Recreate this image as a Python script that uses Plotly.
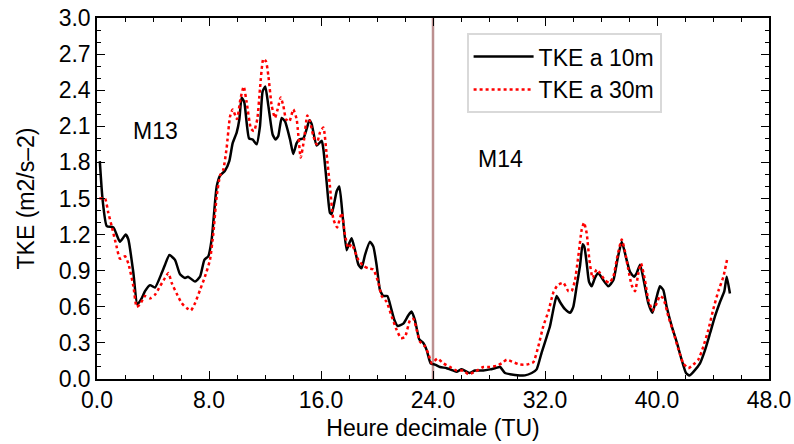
import plotly.graph_objects as go

# ---- data ----
t10 = [0.2, 0.4, 0.7, 1.17, 1.64, 2.05, 2.24, 2.6, 2.88, 3.19, 3.43, 3.79, 4.14, 4.62, 4.86,
       5.17, 5.57, 5.93, 6.29, 6.5, 7.0, 7.36, 7.67, 7.95, 8.19, 8.55, 8.79, 9.14, 9.45, 9.69,
       9.98, 10.17, 10.33, 10.52, 10.86, 11.12, 11.4, 11.64, 11.83, 12.02, 12.24, 12.55, 12.76,
       12.95, 13.19, 13.43, 13.79, 14.02, 14.26, 14.45, 14.74, 14.98, 15.17, 15.33, 15.69,
       16.05, 16.17, 16.4, 16.64, 16.76, 17.12, 17.31, 17.55, 17.83, 18.02, 18.19, 18.43,
       18.67, 18.9, 19.14, 19.5, 19.74, 19.98, 20.21, 20.45, 20.74, 20.98, 21.24, 21.48,
       21.88, 22.24, 22.48, 22.71, 23.02, 23.31, 23.55, 23.83, 24.14, 24.5, 24.98, 25.45,
       25.69, 26.05, 26.6, 27.0, 27.6, 28.07, 28.43, 28.79, 29.14, 29.5, 30.21, 30.57, 31.05,
       31.4, 31.76, 32.12, 32.36, 32.6, 32.83, 33.07, 33.43, 33.79, 34.02, 34.26, 34.5, 34.69,
       34.81, 34.98, 35.14, 35.33, 35.57, 35.81, 36.17, 36.52, 36.88, 37.17, 37.48, 37.83,
       38.07, 38.36, 38.55, 38.79, 39.02, 39.38, 39.67, 39.93, 40.21, 40.45, 40.69, 41.05,
       41.4, 41.76, 42.07, 42.31, 42.6, 43.07, 43.43, 43.79, 44.14, 44.5, 44.81, 44.98, 45.21]
tke10 = [1.81, 1.49, 1.27, 1.26, 1.14, 1.2, 1.16, 0.88, 0.62, 0.67, 0.73, 0.78, 0.76, 0.88, 0.95,
         1.03, 0.99, 0.87, 0.84, 0.85, 0.81, 0.85, 0.99, 1.02, 1.16, 1.6, 1.69, 1.73, 1.81, 1.96,
         2.05, 2.16, 2.34, 2.3, 2.0, 1.99, 1.95, 2.1, 2.39, 2.43, 2.27, 2.03, 1.99,
         2.02, 2.17, 2.14, 1.99, 1.87, 1.96, 1.99, 2.0, 2.08, 2.15, 2.12, 1.94,
         1.98, 1.91, 1.64, 1.38, 1.37, 1.56, 1.6, 1.35, 1.07, 1.13, 1.17, 1.07,
         0.95, 0.92, 1.03, 1.14, 1.1, 0.94, 0.74, 0.69, 0.69, 0.6, 0.49, 0.44,
         0.46, 0.53, 0.56, 0.49, 0.33, 0.3, 0.24, 0.13, 0.12, 0.1, 0.09, 0.07,
         0.06, 0.08, 0.05, 0.07, 0.07, 0.08, 0.09, 0.1, 0.05, 0.04, 0.03, 0.03, 0.05,
         0.08, 0.22, 0.35, 0.44, 0.58, 0.69, 0.64, 0.58, 0.55, 0.6, 0.77, 0.94, 1.12,
         1.1, 0.96, 0.81, 0.77, 0.84, 0.88, 0.82, 0.77, 0.82, 0.99, 1.14, 0.99,
         0.89, 0.85, 0.88, 0.95, 0.84, 0.63, 0.55, 0.66, 0.77, 0.74, 0.6, 0.44,
         0.31, 0.16, 0.05, 0.03, 0.06, 0.13, 0.24, 0.38, 0.52, 0.64, 0.73, 0.85, 0.71]

t30 = [0.17, 0.57, 0.81, 1.05, 1.4, 1.64, 2.0, 2.24, 2.6, 2.83, 3.07, 3.43, 3.79, 4.14, 4.5,
       4.86, 5.1, 5.33, 5.69, 6.05, 6.4, 6.71, 7.0, 7.36, 7.71, 8.07, 8.31, 8.55, 8.79, 9.02,
       9.26, 9.5, 9.69, 10.0, 10.25, 10.48, 10.69, 11.0, 11.21, 11.45, 11.64, 11.88, 12.07,
       12.24, 12.48, 12.71, 12.9, 13.12, 13.31, 13.5, 13.74, 14.02, 14.26, 14.55, 14.79,
       15.02, 15.21, 15.45, 15.69, 15.93, 16.17, 16.4, 16.64, 16.88, 17.15, 17.48, 17.71,
       17.95, 18.19, 18.67, 19.02, 19.38, 19.74, 20.1, 20.33, 20.69, 21.05, 21.36, 21.71,
       22.0, 22.36, 22.6, 22.83, 23.07, 23.43, 23.67, 23.91, 24.31, 24.74, 25.21, 25.69,
       26.17, 26.52, 27.0, 27.6, 28.07, 28.55, 28.9, 29.26, 29.74, 30.21, 30.69, 31.17,
       31.52, 31.88, 32.24, 32.6, 32.9, 33.31, 33.67, 33.9, 34.14, 34.38, 34.62, 34.79,
       34.98, 35.17, 35.4, 35.69, 35.93, 36.29, 36.6, 36.88, 37.17, 37.48, 37.71, 37.95,
       38.19, 38.43, 38.67, 38.86, 39.14, 39.38, 39.69, 39.98, 40.21, 40.45, 40.81, 41.17,
       41.52, 41.88, 42.24, 42.6, 42.95, 43.31, 43.67, 44.02, 44.38, 44.74, 45.02]
tke30 = [1.5, 1.5, 1.38, 1.27, 1.1, 1.0, 1.02, 0.96, 0.77, 0.6, 0.62, 0.69, 0.67, 0.7, 0.77,
         0.84, 0.88, 0.8, 0.71, 0.63, 0.59, 0.57, 0.63, 0.74, 0.85, 0.99, 1.21, 1.52, 1.69, 1.74,
         1.92, 2.18, 2.24, 2.16, 2.33, 2.43, 2.3, 2.08, 2.06, 2.16, 2.41, 2.66, 2.64,
         2.52, 2.27, 2.17, 2.24, 2.34, 2.27, 2.16, 2.14, 2.24, 2.16, 1.84, 1.99,
         2.19, 2.14, 2.02, 1.95, 2.05, 2.09, 1.87, 1.6, 1.33, 1.26, 1.38, 1.2,
         1.09, 1.12, 0.99, 0.94, 0.92, 0.91, 0.8, 0.69, 0.64, 0.52, 0.42, 0.34,
         0.35, 0.49, 0.5, 0.41, 0.31, 0.27, 0.21, 0.13, 0.17, 0.13, 0.1, 0.07,
         0.07, 0.04, 0.06, 0.1, 0.1, 0.11, 0.13, 0.16, 0.14, 0.12, 0.12, 0.14,
         0.27, 0.44, 0.56, 0.72, 0.78, 0.8, 0.73, 0.73, 0.82, 1.02, 1.24, 1.3,
         1.21, 0.99, 0.84, 0.91, 0.88, 0.82, 0.8, 0.85, 1.02, 1.16, 1.06, 0.91,
         0.78, 0.73, 0.88, 0.96, 0.82, 0.66, 0.57, 0.63, 0.69, 0.67, 0.52, 0.39,
         0.25, 0.13, 0.09, 0.12, 0.16, 0.27, 0.41, 0.58, 0.73, 0.85, 1.0]

x_ticks = [0, 8, 16, 24, 32, 40, 48]
x_tick_labels = ["0.0", "8.0", "16.0", "24.0", "32.0", "40.0", "48.0"]
y_ticks = [0.0, 0.3, 0.6, 0.9, 1.2, 1.5, 1.8, 2.1, 2.4, 2.7, 3.0]
y_tick_labels = ["0.0", "0.3", "0.6", "0.9", "1.2", "1.5", "1.8", "2.1", "2.4", "2.7", "3.0"]
day_boundary = 24.0
labels = [("M13", 4.21, 2.06), ("M14", 28.79, 1.83)]

FONT = "Liberation Sans, Arial, sans-serif"
FS = 23

fig = go.Figure()
fig.add_trace(go.Scatter(x=t10, y=tke10, mode="lines", name="TKE a 10m",
                         line=dict(color="black", width=2.5, shape="spline", smoothing=0.5)))
fig.add_trace(go.Scatter(x=t30, y=tke30, mode="lines", name="TKE a 30m",
                         line=dict(color="#ff0000", width=2.5, dash="dot", shape="spline", smoothing=0.5)))

fig.add_shape(type="line", xref="x", yref="paper", x0=day_boundary, x1=day_boundary, y0=0, y1=1,
              line=dict(color="#bc8f8f", width=2.5), layer="below")

for txt, xx, yy in labels:
    fig.add_annotation(x=xx, y=yy, text=txt, showarrow=False,
                       font=dict(family=FONT, size=FS, color="black"))

axis_common = dict(showline=True, linecolor="black", linewidth=1.5, mirror="allticks",
                   ticks="inside", ticklen=8, tickwidth=1.2, tickcolor="black",
                   showgrid=False, zeroline=False, automargin=False,
                   ticklabeloverflow="allow",
                   tickfont=dict(family=FONT, size=FS, color="black"))

fig.update_xaxes(range=[0, 48], tickvals=x_ticks, ticktext=x_tick_labels,
                 title=dict(text="Heure decimale (TU)", font=dict(family=FONT, size=FS, color="black"),
                            standoff=8),
                 minor=dict(ticks="inside", dtick=2, ticklen=4, tickcolor="black", tickwidth=1),
                 **axis_common)
fig.update_yaxes(range=[0, 3.0], tickvals=y_ticks, ticktext=y_tick_labels,
                 title=dict(text="TKE (m2/s–2)", font=dict(family=FONT, size=FS, color="black"),
                            standoff=18),
                 minor=dict(ticks="inside", dtick=0.1, ticklen=4, tickcolor="black", tickwidth=1),
                 **axis_common)

fig.update_layout(
    width=794, height=444,
    margin=dict(l=97, r=25, t=18, b=65, autoexpand=False),
    paper_bgcolor="white", plot_bgcolor="white",
    font=dict(family=FONT, size=FS, color="black"),
    legend=dict(x=0.55, y=0.958, xanchor="left", yanchor="top",
                bgcolor="white", bordercolor="#d9d9d9", borderwidth=2,
                font=dict(family=FONT, size=FS, color="black"),
                itemwidth=60, tracegroupgap=0),
    showlegend=True,
)

# remove the default page margin so the figure sits at the window's top-left corner
fig.write_html("out.html", config={"displayModeBar": False},
               post_script="document.body.style.margin='0px';document.body.style.overflow='hidden';")
